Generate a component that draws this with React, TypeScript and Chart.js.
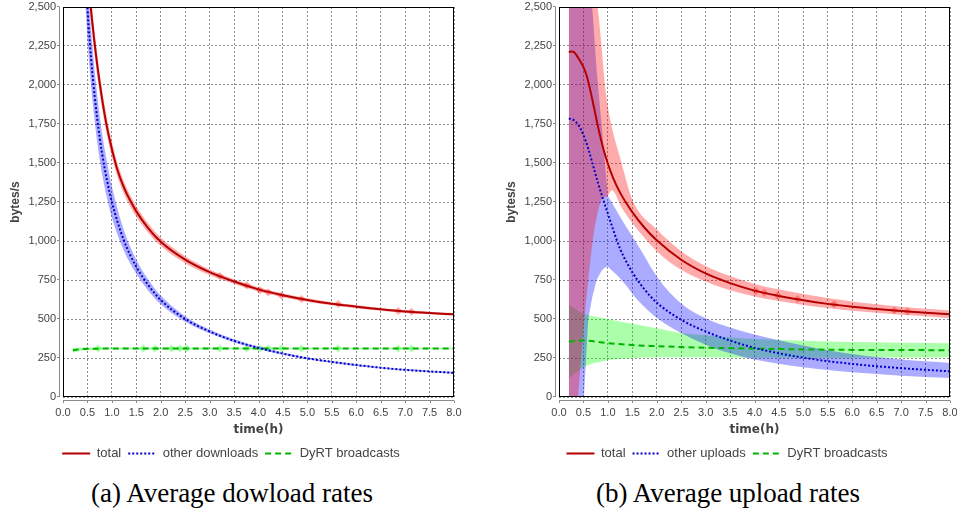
import React, { useEffect, useRef } from 'react';
import { Chart, registerables } from 'chart.js';

Chart.register(...registerables);
Chart.defaults.font.family = "'Liberation Sans', Arial, sans-serif";

// ---------- axis ticks ----------
const xTickMin = 0;
const xTickMax = 8;
const xTickStep = 0.5;
const yTickMin = 0;
const yTickMax = 2500;
const yTickStep = 250;

// ---------- (a) download rates ----------
const dlTotalT = [0.5, 0.55, 0.6, 0.7, 0.8, 0.9, 1.0, 1.1, 1.25, 1.5, 1.75, 2.0, 2.5, 3.0, 3.5, 4.0, 4.5, 5.0, 5.5, 6.0, 6.5, 7.0, 7.5, 8.0];
const dlTotalV = [2760, 2560, 2400, 2130, 1910, 1730, 1590, 1470, 1340, 1190, 1080, 995, 880, 800, 740, 690, 652, 622, 598, 579, 562, 548, 538, 530];
const dlTotalSpread = [90, 85, 80, 70, 62, 55, 50, 45, 40, 35, 30, 27, 22, 18, 15, 13, 12, 11, 10, 10, 9, 9, 8, 8];

const dlOtherT = [0.45, 0.5, 0.55, 0.6, 0.7, 0.8, 0.9, 1.0, 1.25, 1.5, 1.75, 2.0, 2.5, 3.0, 3.5, 4.0, 4.5, 5.0, 5.5, 6.0, 6.5, 7.0, 7.5, 8.0];
const dlOtherV = [2780, 2500, 2270, 2080, 1785, 1560, 1390, 1250, 1000, 835, 715, 622, 500, 420, 360, 315, 278, 248, 225, 205, 188, 174, 164, 155];
const dlOtherSpread = [220, 200, 185, 170, 150, 130, 115, 100, 65, 45, 35, 28, 18, 12, 10, 8, 7, 6, 6, 6, 5, 5, 5, 5];

const dlDyrtT = [0.2, 0.3, 0.45, 0.7, 1.0, 2.0, 3.0, 4.0, 5.0, 6.0, 7.0, 8.0];
const dlDyrtV = [300, 304, 308, 310, 311, 311, 311, 311, 311, 311, 311, 311];
const dlDyrtSpread = [16, 12, 9, 8, 7, 6, 6, 5, 5, 5, 5, 5];

const dlTotalMarkT = [3.21, 3.76, 4.03, 4.2, 4.47, 4.88, 5.63, 6.86, 7.13];
const dlTotalMarkV = [775, 716, 684, 670, 650, 628, 596, 551, 546];
const dlDyrtMarkT = [0.72, 1.64, 1.88, 2.22, 2.39, 2.53, 3.21, 3.76, 4.03, 4.2, 4.47, 4.88, 5.63, 6.86, 7.13];
const dlDyrtMarkV = [311, 311, 311, 311, 311, 311, 311, 311, 311, 311, 311, 311, 311, 311, 311];

// ---------- (b) upload rates ----------
const upTotalT = [0.2, 0.25, 0.3, 0.35, 0.4, 0.45, 0.5, 0.55, 0.6, 0.7, 0.8, 0.9, 1.0, 1.1, 1.25, 1.5, 1.75, 2.0, 2.5, 3.0, 3.5, 4.0, 4.5, 5.0, 5.5, 6.0, 6.5, 7.0, 7.5, 8.0];
const upTotalV = [2210, 2215, 2212, 2195, 2170, 2145, 2115, 2075, 2020, 1880, 1730, 1600, 1495, 1410, 1310, 1185, 1085, 1005, 880, 792, 730, 682, 648, 620, 597, 579, 564, 551, 540, 530];
const upTotalBandT = [0.2, 0.3, 0.39, 0.52, 0.6, 0.69, 0.79, 0.87, 0.94, 1.0, 1.08, 1.28, 1.5, 2.0, 2.5, 3.0, 3.5, 4.0, 4.5, 5.0, 5.5, 6.0, 6.5, 7.0, 7.5, 8.0];
const upTotalHi = [3500, 3300, 3100, 2900, 2800, 2650, 2500, 2250, 2000, 1860, 1730, 1500, 1265, 1075, 935, 840, 775, 725, 690, 660, 635, 612, 595, 578, 566, 555];
const upTotalLo = [-800, -350, 0, 500, 750, 1000, 1180, 1265, 1280, 1290, 1325, 1215, 1115, 935, 815, 740, 685, 645, 615, 590, 570, 553, 540, 528, 517, 505];

const upOtherT = [0.2, 0.25, 0.3, 0.35, 0.4, 0.5, 0.6, 0.7, 0.8, 0.9, 1.0, 1.1, 1.25, 1.5, 1.75, 2.0, 2.5, 3.0, 3.5, 4.0, 4.5, 5.0, 5.5, 6.0, 6.5, 7.0, 7.5, 8.0];
const upOtherV = [1785, 1782, 1775, 1762, 1742, 1680, 1590, 1480, 1370, 1270, 1175, 1080, 950, 800, 690, 605, 495, 420, 362, 315, 280, 252, 230, 212, 197, 185, 174, 165];
// band before and after the peak at t = 1.0
const upOtherEarlyT = [0.2, 0.3, 0.4, 0.51, 0.6, 0.68, 0.77, 0.87, 0.94, 1.0];
const upOtherEarlyHi = [3600, 3400, 3200, 2950, 2700, 2500, 2100, 1750, 1500, 1290];
const upOtherEarlyLo = [-1200, -800, -400, 0, 500, 640, 750, 810, 830, 835];
const upOtherLateT = [1.0, 1.28, 1.64, 2.03, 2.5, 3.0, 3.5, 4.0, 5.0, 6.0, 7.0, 8.0];
const upOtherLateHi = [1290, 1140, 960, 760, 600, 505, 445, 400, 330, 275, 240, 218];
const upOtherLateLo = [835, 750, 610, 500, 410, 335, 280, 240, 190, 158, 137, 122];

const upDyrtT = [0.2, 0.5, 1.0, 1.5, 2.0, 2.5, 3.0, 3.5, 4.0, 5.0, 6.0, 7.0, 8.0];
const upDyrtV = [355, 362, 345, 333, 326, 320, 316, 313, 310, 305, 302, 301, 300];
const upDyrtHi = [590, 535, 500, 470, 440, 410, 395, 383, 372, 360, 352, 348, 345];
const upDyrtLo = [120, 190, 235, 248, 255, 255, 255, 253, 252, 252, 252, 253, 255];

const upTotalMarkT = [4.03, 4.2, 4.47, 4.88, 5.63, 6.86, 7.13];
const upTotalMarkV = [680, 669, 650, 628, 594, 554, 548];

// ---------- styles ----------
const RED = '#b40000';
const BLUE = '#0000c8';
const GREEN = '#00b400';
const RED_BAND = 'rgba(255,0,0,0.33)';
const BLUE_BAND = 'rgba(0,0,255,0.33)';
const GREEN_BAND = 'rgba(0,255,0,0.33)';
const TEXT = '#444';

type P = { x: number; y: number };
const pts = (t: number[], v: number[]): P[] => t.map((x, i) => ({ x, y: v[i] }));
const offset = (t: number[], v: number[], s: number[], sign: number): P[] =>
  t.map((x, i) => ({ x, y: v[i] + sign * s[i] }));

function band(lo: P[], hi: P[], color: string, order: number, smooth = true) {
  const common: any = {
    label: '',
    borderWidth: 0,
    borderColor: 'rgba(0,0,0,0)',
    pointRadius: 0,
    order,
    tension: 0,
  };
  if (smooth) common.cubicInterpolationMode = 'monotone';
  return [
    { ...common, data: lo, fill: false },
    { ...common, data: hi, fill: '-1', backgroundColor: color },
  ];
}

function line(label: string, data: P[], color: string, dash: number[], order: number) {
  return {
    label,
    data,
    borderColor: color,
    backgroundColor: color,
    borderWidth: 2,
    borderDash: dash,
    pointRadius: 0,
    fill: false,
    cubicInterpolationMode: 'monotone',
    order,
  };
}

function marks(data: P[], color: string, order: number) {
  return {
    label: '',
    data,
    showLine: false,
    pointStyle: 'rectRot',
    pointRadius: 4,
    pointBackgroundColor: color,
    pointBorderWidth: 0,
    borderColor: 'rgba(0,0,0,0)',
    fill: false,
    order,
  };
}

const framePlugin = {
  id: 'frame',
  afterDatasetsDraw(chart: any) {
    const { ctx, chartArea: a, scales } = chart;
    ctx.save();
    ctx.setLineDash([]);
    ctx.strokeStyle = '#000';
    ctx.lineWidth = 1;
    ctx.strokeRect(a.left + 0.5, a.top + 0.5, a.right - a.left - 1, a.bottom - a.top - 1);
    ctx.strokeStyle = '#8a8a8a';
    ctx.beginPath();
    const ax = Math.round(a.left) - 3.5;
    ctx.moveTo(ax, a.top);
    ctx.lineTo(ax, a.bottom);
    scales.y.ticks.forEach((t: any) => {
      const y = Math.round(scales.y.getPixelForValue(t.value)) - 0.5;
      ctx.moveTo(ax, y);
      ctx.lineTo(ax - 2.5, y);
    });
    const ay = Math.round(a.bottom) + 3.5;
    ctx.moveTo(a.left, ay);
    ctx.lineTo(a.right, ay);
    scales.x.ticks.forEach((t: any) => {
      const x = Math.round(scales.x.getPixelForValue(t.value)) + 0.5;
      ctx.moveTo(x, ay);
      ctx.lineTo(x, ay + 2.5);
    });
    ctx.stroke();
    ctx.restore();
  },
};

function legendLabels(chart: any) {
  const base = (Chart.defaults.plugins.legend.labels as any).generateLabels(chart);
  return base
    .filter((i: any) => i.text !== '')
    .map((i: any) => {
      const ds: any = chart.data.datasets[i.datasetIndex];
      return {
        ...i,
        pointStyle: 'line',
        strokeStyle: ds.borderColor,
        fillStyle: ds.borderColor,
        lineWidth: 2,
        lineDash: ds.borderDash || [],
        lineDashOffset: 0,
        lineCap: 'butt',
      };
    });
}

function makeOptions(padLeft: number, padRight: number) {
  const tickFont = { size: 11, family: "'Liberation Sans', Arial, sans-serif" };
  return {
    animation: false,
    responsive: false,
    maintainAspectRatio: false,
    layout: { padding: { left: padLeft, right: padRight, top: 7, bottom: 0 } },
    plugins: {
      tooltip: { enabled: false },
      legend: {
        position: 'bottom',
        labels: {
          usePointStyle: true,
          pointStyle: 'line',
          pointStyleWidth: 28,
          padding: 7,
          color: TEXT,
          font: { size: 13, family: "'Liberation Sans', Arial, sans-serif" },
          generateLabels: legendLabels,
        },
      },
    },
    scales: {
      x: {
        type: 'linear',
        min: xTickMin,
        max: xTickMax,
        ticks: {
          stepSize: xTickStep,
          autoSkip: false,
          maxRotation: 0,
          padding: 9,
          color: TEXT,
          font: tickFont,
          callback: (v: any) => Number(v).toFixed(1),
        },
        grid: { color: '#8c8c8c', lineWidth: 1, drawTicks: false },
        border: { display: false, dash: [2, 2] },
        title: {
          display: true,
          text: 'time(h)',
          color: TEXT,
          font: { size: 12, weight: 'bold', family: "'DejaVu Sans', sans-serif" },
          padding: { top: 0, bottom: 2.8 },
        },
        afterFit: (s: any) => {
          s.height = 43;
          s.paddingLeft = 0;
          s.paddingRight = 0;
        },
      },
      y: {
        type: 'linear',
        min: yTickMin,
        max: yTickMax,
        ticks: {
          stepSize: yTickStep,
          padding: 7,
          color: TEXT,
          font: tickFont,
          callback: (v: any) => String(Math.round(Number(v))).replace(/\B(?=(\d{3})+(?!\d))/g, ','),
        },
        grid: { color: '#8c8c8c', lineWidth: 1, drawTicks: false },
        border: { display: false, dash: [2, 2] },
        title: {
          display: true,
          text: 'bytes/s',
          color: TEXT,
          font: { size: 12, weight: 'bold' },
          padding: { top: 0, bottom: 0 },
        },
        afterFit: (s: any) => {
          s.width = 55;
          s.paddingTop = 0;
          s.paddingBottom = 0;
        },
      },
    },
  };
}

function downloadDatasets() {
  return [
    line('total', pts(dlTotalT, dlTotalV), RED, [], 1),
    line('other downloads', pts(dlOtherT, dlOtherV), BLUE, [2, 2], 2),
    line('DyRT broadcasts', pts(dlDyrtT, dlDyrtV), GREEN, [6, 4], 3),
    marks(pts(dlTotalMarkT, dlTotalMarkV), RED_BAND, 4),
    ...band(offset(dlTotalT, dlTotalV, dlTotalSpread, -1), offset(dlTotalT, dlTotalV, dlTotalSpread, 1), RED_BAND, 5),
    ...band(offset(dlOtherT, dlOtherV, dlOtherSpread, -1), offset(dlOtherT, dlOtherV, dlOtherSpread, 1), BLUE_BAND, 6),
    marks(pts(dlDyrtMarkT, dlDyrtMarkV), GREEN_BAND, 7),
    ...band(offset(dlDyrtT, dlDyrtV, dlDyrtSpread, -1), offset(dlDyrtT, dlDyrtV, dlDyrtSpread, 1), GREEN_BAND, 8),
  ];
}

function uploadDatasets() {
  return [
    line('total', pts(upTotalT, upTotalV), RED, [], 1),
    line('other uploads', pts(upOtherT, upOtherV), BLUE, [2, 2], 2),
    line('DyRT broadcasts', pts(upDyrtT, upDyrtV), GREEN, [6, 4], 3),
    marks(pts(upTotalMarkT, upTotalMarkV), RED_BAND, 4),
    ...band(pts(upTotalBandT, upTotalLo), pts(upTotalBandT, upTotalHi), RED_BAND, 5),
    ...band(pts(upOtherEarlyT, upOtherEarlyLo), pts(upOtherEarlyT, upOtherEarlyHi), BLUE_BAND, 6, false),
    ...band(pts(upOtherLateT, upOtherLateLo), pts(upOtherLateT, upOtherLateHi), BLUE_BAND, 7),
    ...band(pts(upDyrtT, upDyrtLo), pts(upDyrtT, upDyrtHi), GREEN_BAND, 8),
  ];
}

export default function App() {
  const leftRef = useRef<HTMLCanvasElement>(null);
  const rightRef = useRef<HTMLCanvasElement>(null);

  useEffect(() => {
    const c1 = new Chart(leftRef.current as HTMLCanvasElement, {
      type: 'line',
      data: { datasets: downloadDatasets() as any },
      options: makeOptions(8, 26) as any,
      plugins: [framePlugin],
    });
    const c2 = new Chart(rightRef.current as HTMLCanvasElement, {
      type: 'line',
      data: { datasets: uploadDatasets() as any },
      options: makeOptions(24, 7) as any,
      plugins: [framePlugin],
    });
    return () => {
      c1.destroy();
      c2.destroy();
    };
  }, []);

  const caption: React.CSSProperties = {
    position: 'absolute',
    top: 480,
    transform: 'translateX(-50%)',
    whiteSpace: 'nowrap',
    fontFamily: "'Liberation Serif', 'DejaVu Serif', serif",
    fontSize: 27,
    lineHeight: '26px',
    color: '#000',
  };

  return (
    <div style={{ position: 'fixed', left: 0, top: 0, width: 957, height: 509, background: '#fff', overflow: 'hidden' }}>
      <canvas ref={leftRef} width={480} height={470} style={{ position: 'absolute', left: 0, top: 0, width: 480, height: 470 }} />
      <canvas ref={rightRef} width={477} height={470} style={{ position: 'absolute', left: 480, top: 0, width: 477, height: 470 }} />
      <div style={{ ...caption, left: 232 }}>(a) Average dowload rates</div>
      <div style={{ ...caption, left: 728 }}>(b) Average upload rates</div>
    </div>
  );
}
